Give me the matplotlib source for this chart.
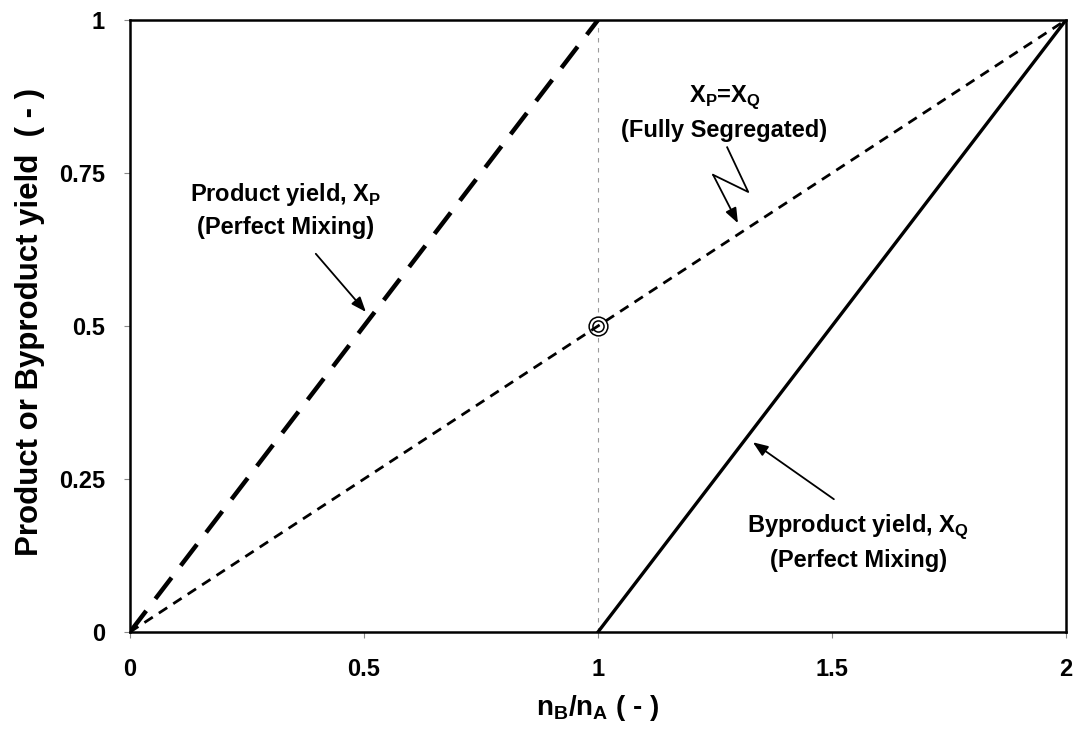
import matplotlib
matplotlib.use("Agg")
import matplotlib.pyplot as plt

plt.rcParams['font.family'] = ['Liberation Sans', 'DejaVu Sans']
plt.rcParams['font.weight'] = 'bold'
plt.rcParams['mathtext.fontset'] = 'custom'
plt.rcParams['mathtext.rm'] = 'Liberation Sans'
plt.rcParams['mathtext.bf'] = 'Liberation Sans:bold'

# datos de las tres rectas (nB/nA frente a rendimiento)
x_prod = [0, 1]
y_prod = [0, 1]
x_seg = [0, 2]
y_seg = [0, 1]
x_byp = [1, 2]
y_byp = [0, 1]
x_ref = [1, 1]
y_ref = [0, 1]
punto = (1, 0.5)

xticks = [0, 0.5, 1, 1.5, 2]
xticklabels = ['0', '0.5', '1', '1.5', '2']
yticks = [0, 0.25, 0.5, 0.75, 1]
yticklabels = ['0', '0.25', '0.5', '0.75', '1']

W, H = 1081, 739
fig = plt.figure(figsize=(W / 100, H / 100), dpi=100)
ax = fig.add_axes([130 / W, 1 - 632 / H, (1066 - 130) / W, (632 - 20) / H])

ax.plot(x_ref, y_ref, color='#9a9a9a', lw=0.8, linestyle=(0, (4, 5)), zorder=1)
ax.plot(x_prod, y_prod, color='black', lw=3.2, dashes=(6, 3.4), zorder=3)
ax.plot(x_seg, y_seg, color='black', lw=2, dashes=(3.6, 2.6), zorder=3)
ax.plot(x_byp, y_byp, color='black', lw=2.4, zorder=3)

# doble circulo en (1, 0.5)
ax.plot(*punto, 'o', ms=13.5, mfc='white', mec='black', mew=1.1, zorder=2)
ax.plot(*punto, 'o', ms=8, mfc='none', mec='black', mew=1.1, zorder=4)

ax.set_xlim(0, 2)
ax.set_ylim(0, 1)
ax.set_xticks(xticks)
ax.set_xticklabels(xticklabels)
ax.set_yticks(yticks)
ax.set_yticklabels(yticklabels)
ax.tick_params(axis='both', direction='out', length=4, width=0.8, color='#888888',
               labelsize=17)
ax.tick_params(axis='x', pad=15)
ax.tick_params(axis='y', pad=14)
for s in ax.spines.values():
    s.set_linewidth(1.8)

fig.text(30 / W, 1 - 322 / H, 'Product or Byproduct yield  ( - )', rotation=90,
         ha='center', va='center', fontsize=22.5, fontweight='bold')
fig.text(598 / W, 1 - 708 / H, r'n$_\mathbf{B}$/n$_\mathbf{A}$ ( - )',
         ha='center', va='center', fontsize=20, fontweight='bold')

flecha = dict(arrowstyle='-|>,head_length=0.9,head_width=0.35', color='black',
              lw=1.3, shrinkA=0, shrinkB=0)

ax.text(0.333, 0.69, 'Product yield, X$_\\mathrm{P}$\n(Perfect Mixing)',
        ha='center', va='center', fontsize=17, linespacing=1.45)
ax.annotate('', xy=(0.504, 0.523), xytext=(0.397, 0.618), arrowprops=flecha)

ax.text(1.27, 0.848, 'X$_\\mathrm{P}$=X$_\\mathrm{Q}$\n(Fully Segregated)',
        ha='center', va='center', fontsize=17, linespacing=1.45)
ax.plot([1.276, 1.321, 1.246], [0.792, 0.719, 0.747], color='black', lw=1.3)
ax.annotate('', xy=(1.299, 0.668), xytext=(1.246, 0.747), arrowprops=flecha)

ax.text(1.556, 0.147, 'Byproduct yield, X$_\\mathrm{Q}$\n(Perfect Mixing)',
        ha='center', va='center', fontsize=17, linespacing=1.45)
ax.annotate('', xy=(1.331, 0.310), xytext=(1.504, 0.217), arrowprops=flecha)

fig.savefig('out.png', dpi=100)
